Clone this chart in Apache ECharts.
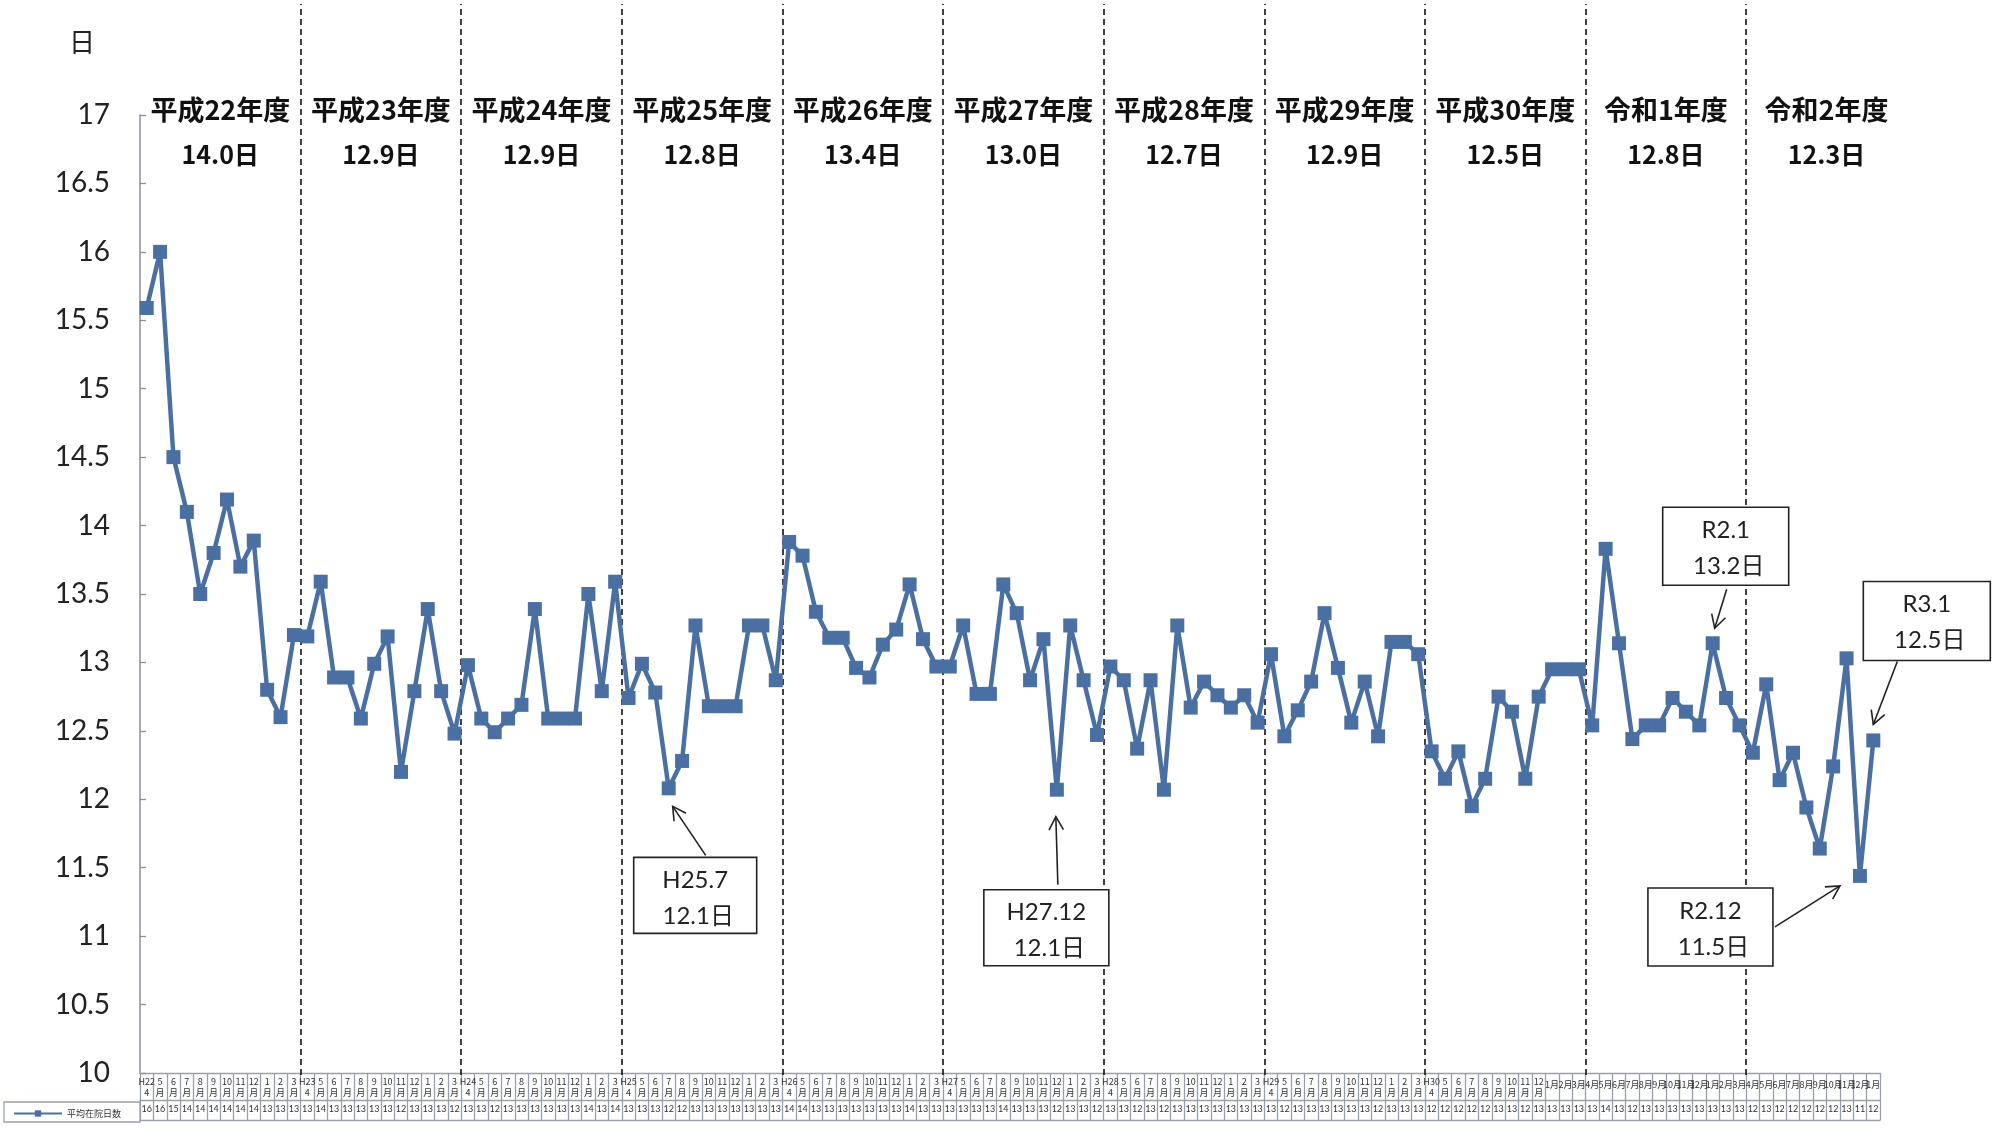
<!DOCTYPE html>
<html>
<head>
<meta charset="utf-8">
<script src="https://cdn.jsdelivr.net/npm/echarts@6/dist/echarts.min.js"></script>
<style>
html,body{margin:0;padding:0;background:#fff;}
#chart{width:2001px;height:1129px;}
</style>
</head>
<body>
<div id="chart"></div>
<script>
// ---- data ----
const categories = [
"H22\n4","5\n月","6\n月","7\n月","8\n月","9\n月","10\n月","11\n月","12\n月","1\n月","2\n月","3\n月",
"H23\n4","5\n月","6\n月","7\n月","8\n月","9\n月","10\n月","11\n月","12\n月","1\n月","2\n月","3\n月",
"H24\n4","5\n月","6\n月","7\n月","8\n月","9\n月","10\n月","11\n月","12\n月","1\n月","2\n月","3\n月",
"H25\n4","5\n月","6\n月","7\n月","8\n月","9\n月","10\n月","11\n月","12\n月","1\n月","2\n月","3\n月",
"H26\n4","5\n月","6\n月","7\n月","8\n月","9\n月","10\n月","11\n月","12\n月","1\n月","2\n月","3\n月",
"H27\n4","5\n月","6\n月","7\n月","8\n月","9\n月","10\n月","11\n月","12\n月","1\n月","2\n月","3\n月",
"H28\n4","5\n月","6\n月","7\n月","8\n月","9\n月","10\n月","11\n月","12\n月","1\n月","2\n月","3\n月",
"H29\n4","5\n月","6\n月","7\n月","8\n月","9\n月","10\n月","11\n月","12\n月","1\n月","2\n月","3\n月",
"H30\n4","5\n月","6\n月","7\n月","8\n月","9\n月","10\n月","11\n月","12\n月","1月","2月","3月",
"4月","5月","6月","7月","8月","9月","10月","11月","12月","1月","2月","3月",
"4月","5月","6月","7月","8月","9月","10月","11月","12月","1月"
];

const values = [
15.59,16.00,14.50,14.10,13.50,13.80,14.19,13.70,13.89,12.80,12.60,13.20,
13.19,13.59,12.89,12.89,12.59,12.99,13.19,12.20,12.79,13.39,12.79,12.48,
12.98,12.59,12.49,12.59,12.69,13.39,12.59,12.59,12.59,13.50,12.79,13.59,
12.74,12.99,12.78,12.08,12.28,13.27,12.68,12.68,12.68,13.27,13.27,12.87,
13.88,13.78,13.37,13.18,13.18,12.96,12.89,13.13,13.24,13.57,13.17,12.97,
12.97,13.27,12.77,12.77,13.57,13.36,12.87,13.17,12.07,13.27,12.87,12.47,
12.97,12.87,12.37,12.87,12.07,13.27,12.67,12.86,12.76,12.67,12.76,12.56,
13.06,12.46,12.65,12.86,13.36,12.96,12.56,12.86,12.46,13.15,13.15,13.06,
12.35,12.15,12.35,11.95,12.15,12.75,12.64,12.15,12.75,12.95,12.95,12.95,
12.54,13.83,13.14,12.44,12.54,12.54,12.74,12.64,12.54,13.14,12.74,12.54,
12.34,12.84,12.14,12.34,11.94,11.64,12.24,13.03,11.44,12.43
];

const seriesName = "平均在院日数";

const fiscalNames = ["平成22年度","平成23年度","平成24年度","平成25年度","平成26年度","平成27年度","平成28年度","平成29年度","平成30年度","令和1年度","令和2年度"];
const fiscalAvgs = ["14.0","12.9","12.9","12.8","13.4","13.0","12.7","12.9","12.5","12.8","12.3"];
const monthsPerYear = 12;

const yTicks = {min: 10, max: 17, interval: 0.5};

const annotations = [
  {idx: 39, lines: ["H25.7", "12.1日"]},
  {idx: 68, lines: ["H27.12", "12.1日"]},
  {idx: 117, lines: ["R2.1", "13.2日"]},
  {idx: 128, lines: ["R2.12", "11.5日"]},
  {idx: 129, lines: ["R3.1", "12.5日"]}
];

// ---- layout (pixels, relative to the annotated point) ----
const annotationLayout = [
  {bx: -35, by: 69, bw: 123, bh: 76, tail: [37, 67], head: [4, 18]},
  {bx: -73, by: 100, bw: 125, bh: 76, tail: [1, 95], head: [-1, 27]},
  {bx: -50, by: -136, bw: 126, bh: 78, tail: [14, -54], head: [2, -15]},
  {bx: -212, by: 12, bw: 125, bh: 78, tail: [-85, 51], head: [-20, 10]},
  {bx: -10, by: -159, bw: 127, bh: 79, tail: [24, -79], head: [0, -16]}
];

const tableValues = values.map(v => String(Math.round(v)));
const fiscalBoundaries = fiscalNames.slice(1).map((n, i) => (i + 1) * monthsPerYear);

const GRID_LEFT = 140, GRID_RIGHT = 121, W = 2001;
const cellW = (W - GRID_LEFT - GRID_RIGHT) / categories.length;
const headerRight = W - GRID_LEFT - cellW * monthsPerYear * fiscalNames.length;

const lineColor = '#4a70a3';
const tableLine = {color: '#9aa0ab', width: 1.3};

const chart = echarts.init(document.getElementById('chart'), null, {renderer: 'canvas'});

const option = {
  animation: false,
  backgroundColor: '#ffffff',
  title: {
    text: '日', left: 64, top: 24,
    textStyle: {fontSize: 26, fontWeight: 'normal', color: '#222', fontFamily: 'Noto Sans CJK JP'}
  },
  legend: {
    data: [seriesName], left: 8, top: 1104, itemWidth: 48, itemHeight: 8, itemGap: 4,
    textStyle: {fontSize: 9, color: '#333', fontFamily: 'Noto Sans CJK JP'}
  },
  grid: [
    {left: GRID_LEFT, right: GRID_RIGHT, top: 115, bottom: 56},
    {left: GRID_LEFT, right: GRID_RIGHT, top: 4, bottom: 54},
    {left: GRID_LEFT, right: headerRight, top: 178, bottom: 100}
  ],
  xAxis: [
    {
      type: 'category', gridIndex: 0, data: categories, boundaryGap: true,
      axisLine: {show: true, lineStyle: tableLine},
      axisTick: {show: true, interval: 0, length: 47, lineStyle: tableLine},
      axisLabel: {
        interval: 0, margin: 3, fontSize: 9, lineHeight: 11, color: '#333',
        fontFamily: 'Noto Sans CJK JP', hideOverlap: false,
        formatter: function (v) {
          if (v.indexOf('\n') < 0) return '{s|' + v + '}';
          return v;
        },
        rich: {s: {fontSize: 9, padding: [6, 0, 0, 0], color: '#333', fontFamily: 'Noto Sans CJK JP'}}
      }
    },
    {
      type: 'category', gridIndex: 0, data: categories, position: 'bottom', offset: 27,
      axisLine: {show: true, lineStyle: tableLine},
      axisTick: {show: false},
      axisLabel: {
        interval: 0, margin: 5, fontSize: 9, color: '#333', fontFamily: 'Lato', hideOverlap: false,
        formatter: function (v, i) { return tableValues[i]; }
      }
    },
    {
      type: 'category', gridIndex: 0, data: categories, position: 'bottom', offset: 47,
      axisLine: {show: true, lineStyle: tableLine},
      axisTick: {show: false}, axisLabel: {show: false}
    },
    {type: 'value', gridIndex: 1, min: 0, max: categories.length, show: false},
    {
      type: 'category', gridIndex: 2, data: fiscalNames, position: 'top',
      axisLine: {show: false}, axisTick: {show: false}, splitLine: {show: false},
      axisLabel: {
        interval: 0, margin: 2,
        formatter: function (v, i) { return '{a|' + v + '}\n{b|' + fiscalAvgs[i] + '日}'; },
        rich: {
          a: {fontSize: 27, fontWeight: 'bold', lineHeight: 44, color: '#111', fontFamily: 'Noto Sans CJK JP'},
          b: {fontSize: 25, fontWeight: 'bold', lineHeight: 44, color: '#111', fontFamily: 'Noto Sans CJK JP'}
        }
      }
    }
  ],
  yAxis: [
    {
      type: 'value', gridIndex: 0, min: yTicks.min, max: yTicks.max, interval: yTicks.interval,
      axisLine: {show: true, lineStyle: {color: '#8a8f98', width: 1.5}},
      axisTick: {show: true, inside: true, length: 6, lineStyle: {color: '#8a8f98', width: 1.3}},
      splitLine: {show: false},
      axisLabel: {fontSize: 28, color: '#222', margin: 30, fontFamily: 'Lato'}
    },
    {type: 'value', gridIndex: 1, min: 0, max: 1, show: false},
    {type: 'value', gridIndex: 2, min: 0, max: 1, show: false}
  ],
  series: [
    {
      type: 'line', name: seriesName, xAxisIndex: 0, yAxisIndex: 0, data: values,
      symbol: 'rect', symbolSize: 14, z: 5,
      lineStyle: {color: lineColor, width: 4.5},
      itemStyle: {color: lineColor},
      emphasis: {disabled: true}
    },
    {
      type: 'line', xAxisIndex: 3, yAxisIndex: 1, data: [[0, 0]], showSymbol: false, silent: true,
      lineStyle: {opacity: 0}, z: 2,
      markLine: {
        silent: true, symbol: ['none', 'none'], label: {show: false},
        lineStyle: {color: '#111', type: [6, 4], width: 1.6},
        emphasis: {disabled: true},
        data: fiscalBoundaries.map(b => ({xAxis: b}))
      }
    },
    {type: 'scatter', xAxisIndex: 4, yAxisIndex: 2, data: [], silent: true}
  ]
};

chart.setOption(option);

// annotations positioned from the data points via the chart's own scales
const graphics = [];
const boxFont = '24px Lato, "Noto Sans CJK JP", sans-serif';
annotations.forEach((a, k) => {
  const L = annotationLayout[k];
  const p = chart.convertToPixel({seriesIndex: 0}, [a.idx, values[a.idx]]);
  const bx = p[0] + L.bx, by = p[1] + L.by;
  graphics.push({
    type: 'rect', shape: {x: bx, y: by, width: L.bw, height: L.bh},
    style: {fill: '#fff', stroke: '#222', lineWidth: 1.6}, z: 20
  });
  graphics.push({
    type: 'text', x: bx + L.bw / 2, y: by + 23, z: 21,
    style: {text: a.lines[0], font: boxFont, fill: '#222', align: 'center', verticalAlign: 'middle'}
  });
  graphics.push({
    type: 'text', x: bx + L.bw / 2 + 3, y: by + 59, z: 21,
    style: {text: a.lines[1], font: boxFont, fill: '#222', align: 'center', verticalAlign: 'middle'}
  });
  const tx = p[0] + L.tail[0], ty = p[1] + L.tail[1];
  const hx = p[0] + L.head[0], hy = p[1] + L.head[1];
  graphics.push({
    type: 'line', shape: {x1: tx, y1: ty, x2: hx, y2: hy},
    style: {stroke: '#222', lineWidth: 1.6}, z: 21
  });
  const ang = Math.atan2(ty - hy, tx - hx);
  const hl = 15, spread = 0.5;
  graphics.push({
    type: 'polyline',
    shape: {points: [
      [hx + hl * Math.cos(ang - spread), hy + hl * Math.sin(ang - spread)],
      [hx, hy],
      [hx + hl * Math.cos(ang + spread), hy + hl * Math.sin(ang + spread)]
    ]},
    style: {stroke: '#222', lineWidth: 1.6, fill: null}, z: 21
  });
});
// legend cell border of the data table
graphics.push({
  type: 'rect', shape: {x: 4, y: 1102, width: GRID_LEFT - 4, height: 20},
  style: {fill: null, stroke: tableLine.color, lineWidth: tableLine.width}, z: 1
});
chart.setOption({graphic: graphics});
</script>
</body>
</html>
